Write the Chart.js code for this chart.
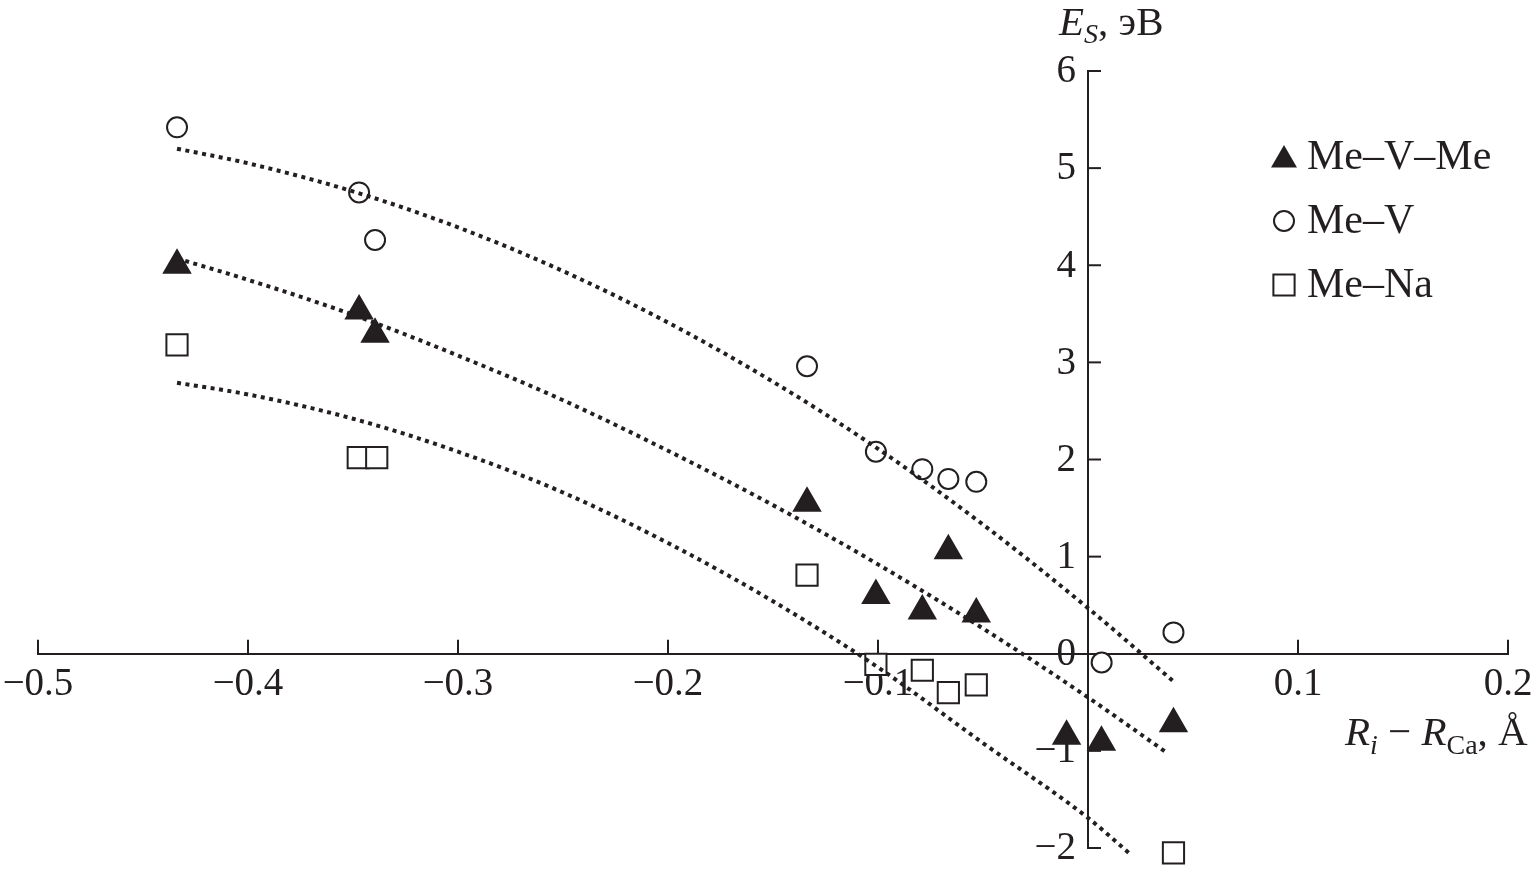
<!DOCTYPE html>
<html>
<head>
<meta charset="utf-8">
<script src="https://cdn.jsdelivr.net/npm/chart.js@4/dist/chart.umd.min.js"></script>
<style>
  html, body { margin: 0; padding: 0; background: #fff; }
  #wrap { width: 1535px; height: 871px; }
</style>
</head>
<body>
<div id="wrap"><canvas id="myChart" width="1535" height="871"></canvas></div>
<script>
// tick values
const xTicks = [-0.5, -0.4, -0.3, -0.2, -0.1, 0, 0.1, 0.2]
const yTicks = [-2, -1, 0, 1, 2, 3, 4, 5, 6]

// Me–V–Me (filled triangles)
const meVMeX = [-0.4338, -0.3471, -0.3395, -0.1338, -0.1010, -0.0789, -0.0665, -0.0532, -0.0102, 0.0064, 0.0407]
const meVMeY = [4.00, 3.53, 3.29, 1.55, 0.60, 0.44, 1.06, 0.41, -0.85, -0.91, -0.72]

// Me–V (open circles)
const meVX = [-0.4338, -0.3471, -0.3395, -0.1338, -0.1010, -0.0789, -0.0665, -0.0532, 0.0065, 0.0407]
const meVY = [5.42, 4.75, 4.26, 2.96, 2.08, 1.90, 1.80, 1.77, -0.09, 0.22]

// Me–Na (open squares)
const meNaX = [-0.4338, -0.3475, -0.3387, -0.1338, -0.1010, -0.0789, -0.0665, -0.0532, 0.0407]
const meNaY = [3.18, 2.02, 2.02, 0.81, -0.11, -0.17, -0.40, -0.32, -2.05]

// dotted trend curves
const fitTopX = [-0.4338, -0.4, -0.35, -0.3, -0.25, -0.2, -0.15, -0.1, -0.05, 0, 0.041]
const fitTopY = [5.20, 5.05, 4.76, 4.39, 3.94, 3.41, 2.80, 2.11, 1.33, 0.47, -0.29]
const fitMidX = [-0.4338, -0.4, -0.35, -0.3, -0.25, -0.2, -0.15, -0.1, -0.05, 0, 0.0376]
const fitMidY = [4.07, 3.85, 3.49, 3.07, 2.61, 2.09, 1.53, 0.92, 0.26, -0.45, -1.02]
const fitBotX = [-0.4338, -0.4, -0.35, -0.3, -0.25, -0.2, -0.15, -0.1, -0.05, 0, 0.0205]
const fitBotY = [2.79, 2.67, 2.42, 2.08, 1.66, 1.14, 0.54, -0.14, -0.92, -1.69, -2.07]

const ink = '#231f20'
const serif = '"Liberation Serif", "DejaVu Serif", serif'

const pts = (xs, ys) => xs.map((x, i) => ({ x: x, y: ys[i] }))
const fmt = v => (v < 0 ? '\u2212' : '') + String(Math.abs(v))

const markerSets = [
    { label: 'Me\u2013V\u2013Me', xs: meVMeX, ys: meVMeY, style: 'triangle', radius: 15, fill: ink },
    { label: 'Me\u2013V', xs: meVX, ys: meVY, style: 'circle', radius: 10, fill: '#fff' },
    { label: 'Me\u2013Na', xs: meNaX, ys: meNaY, style: 'rect', radius: 15, fill: '#fff' },
]

const fitLine = (xs, ys) => ({
    data: pts(xs, ys),
    showLine: true,
    pointRadius: 0,
    borderColor: ink,
    borderWidth: 4,
    borderDash: [4, 4.5],
    cubicInterpolationMode: 'monotone',
    fill: false,
    clip: false,
})

function drawMarker(ctx, style, x, y, r, fill) {
    ctx.beginPath()
    if (style === 'triangle') {
        for (let k = 0; k < 3; k++) {
            const a = k * 2 * Math.PI / 3
            const px = x + Math.sin(a) * r, py = y - Math.cos(a) * r
            k === 0 ? ctx.moveTo(px, py) : ctx.lineTo(px, py)
        }
        ctx.closePath()
    } else if (style === 'circle') {
        ctx.arc(x, y, r, 0, Math.PI * 2)
    } else {
        const s = r * Math.SQRT1_2
        ctx.rect(x - s, y - s, 2 * s, 2 * s)
    }
    ctx.fillStyle = fill
    ctx.fill()
    ctx.lineWidth = 2
    ctx.strokeStyle = ink
    ctx.stroke()
}

function drawRun(ctx, parts, x, y) {
    parts.forEach(p => {
        ctx.font = p.font
        ctx.fillText(p.t, x, y + (p.dy || 0))
        x += ctx.measureText(p.t).width
    })
}

const extras = {
    id: 'extras',
    beforeDatasetsDraw(chart) {
        const ctx = chart.ctx
        const sx = chart.scales.x, sy = chart.scales.y
        const x0 = sx.getPixelForValue(0), y0 = sy.getPixelForValue(0)
        ctx.save()
        ctx.strokeStyle = ink
        ctx.lineWidth = 2
        // inward tick marks
        xTicks.forEach(v => {
            if (v === 0) return
            const px = sx.getPixelForValue(v)
            ctx.beginPath(); ctx.moveTo(px, y0); ctx.lineTo(px, y0 - 14); ctx.stroke()
        })
        yTicks.forEach(v => {
            if (v === 0) return
            const py = sy.getPixelForValue(v)
            ctx.beginPath(); ctx.moveTo(x0, py); ctx.lineTo(x0 + 13, py); ctx.stroke()
        })

        // y tick labels, left of the axis
        ctx.fillStyle = ink
        ctx.font = '39px ' + serif
        ctx.textAlign = 'right'
        ctx.textBaseline = 'middle'
        yTicks.forEach(v => {
            ctx.fillText(fmt(v), x0 - 12, sy.getPixelForValue(v) + 1)
        })
        ctx.restore()
    },
    afterDraw(chart) {
        const ctx = chart.ctx
        ctx.save()
        // legend
        ctx.textAlign = 'left'
        ctx.textBaseline = 'middle'
        markerSets.forEach((m, i) => {
            const ly = 157 + i * 64
            const r = m.style === 'circle' ? 10 : (m.style === 'triangle' ? 13 : 15)
            drawMarker(ctx, m.style, 1284, ly + (m.style === 'triangle' ? 3 : 0), r, m.fill)
            ctx.fillStyle = ink
            ctx.font = '42px ' + serif
            ctx.fillText(m.label, 1307, ly + 1)
        })

        // axis titles
        ctx.textBaseline = 'alphabetic'
        ctx.fillStyle = ink
        drawRun(ctx, [
            { t: 'E', font: 'italic 41px ' + serif },
            { t: 'S', font: 'italic 28px ' + serif, dy: 8 },
            { t: ', \u044dB', font: '41px ' + serif },
        ], 1059, 35)
        drawRun(ctx, [
            { t: 'R', font: 'italic 41px ' + serif },
            { t: 'i', font: 'italic 28px ' + serif, dy: 9 },
            { t: ' \u2212 ', font: '41px ' + serif },
            { t: 'R', font: 'italic 41px ' + serif },
            { t: 'Ca', font: '28px ' + serif, dy: 9 },
            { t: ', \u00c5', font: '41px ' + serif },
        ], 1345, 745)
        ctx.restore()
    }
}

const ctx = document.getElementById('myChart').getContext('2d')

const myChart = new Chart(ctx, {
    type: 'scatter',
    data: {
        datasets: [
            fitLine(fitTopX, fitTopY),
            fitLine(fitMidX, fitMidY),
            fitLine(fitBotX, fitBotY),
            ...markerSets.map(m => ({
                label: m.label,
                data: pts(m.xs, m.ys),
                pointStyle: m.style,
                pointRadius: m.radius,
                pointBackgroundColor: m.fill,
                pointBorderColor: ink,
                pointBorderWidth: 2,
                clip: false,
            })),
        ],
    },
    options: {
        responsive: false,
        animation: false,
        devicePixelRatio: 1,
        layout: { padding: { left: 38, right: 27, top: 71, bottom: 23 } },
        plugins: { legend: { display: false }, tooltip: { enabled: false } },
        scales: {
            x: {
                type: 'linear',
                position: { y: 0 },
                min: -0.5,
                max: 0.2,
                afterBuildTicks: s => { s.ticks = xTicks.map(v => ({ value: v })) },
                afterFit: s => { s.paddingLeft = 0; s.paddingRight = 0; s.paddingTop = 0; s.paddingBottom = 0 },
                grid: { display: false },
                border: { display: true, color: ink, width: 2 },
                ticks: {
                    color: ink,
                    font: { family: serif, size: 39 },
                    padding: 0,
                    maxRotation: 0,
                    autoSkip: false,
                    callback: v => (v === 0 ? '' : fmt(Math.round(v * 10) / 10)),
                },
            },
            y: {
                type: 'linear',
                position: { x: 0 },
                min: -2,
                max: 6,
                afterBuildTicks: s => { s.ticks = yTicks.map(v => ({ value: v })) },
                afterFit: s => { s.paddingLeft = 0; s.paddingRight = 0; s.paddingTop = 0; s.paddingBottom = 0 },
                grid: { display: false },
                border: { display: true, color: ink, width: 2 },
                ticks: { display: false },
            },
        },
    },
    plugins: [extras],
});
</script>
</body>
</html>
